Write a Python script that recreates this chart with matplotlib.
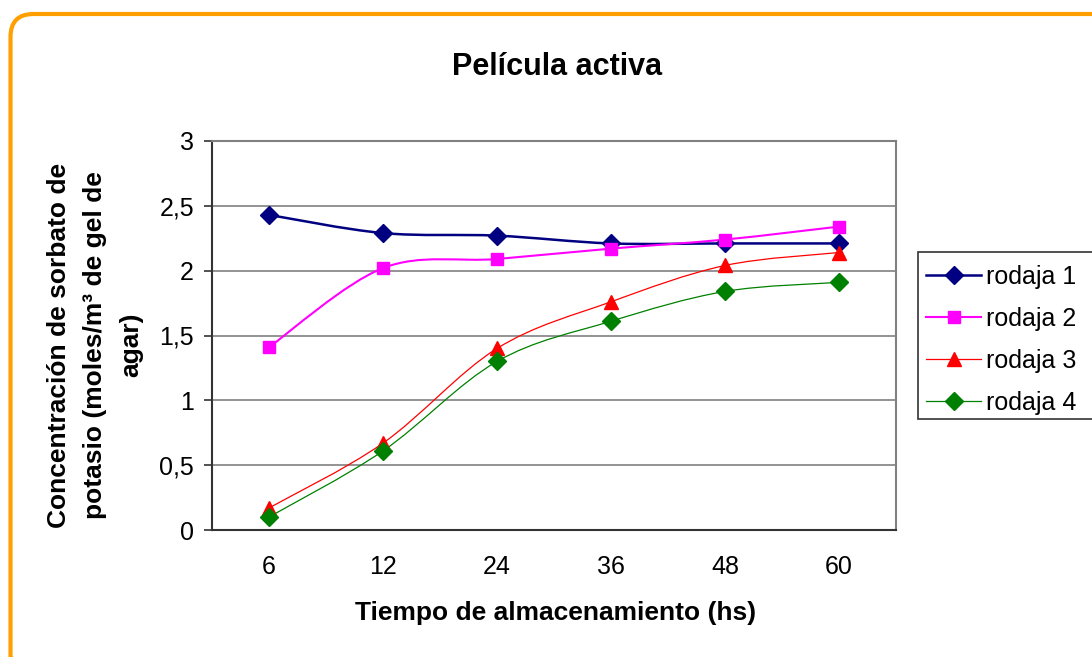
import matplotlib
matplotlib.use("Agg")
import matplotlib.pyplot as plt
from matplotlib.path import Path
from matplotlib.patches import PathPatch, FancyBboxPatch, Rectangle
from matplotlib.lines import Line2D
import numpy as np

plt.rcParams['font.family'] = ['Liberation Sans', 'DejaVu Sans']

# Data
categories = ['6', '12', '24', '36', '48', '60']
rodaja_1 = [2.43, 2.29, 2.27, 2.21, 2.21, 2.21]
rodaja_2 = [1.41, 2.02, 2.09, 2.17, 2.24, 2.34]
rodaja_3 = [0.17, 0.67, 1.40, 1.76, 2.04, 2.14]
rodaja_4 = [0.10, 0.61, 1.30, 1.61, 1.84, 1.91]
series_names = ['rodaja 1', 'rodaja 2', 'rodaja 3', 'rodaja 4']
y_ticks = [0, 0.5, 1, 1.5, 2, 2.5, 3]
y_tick_labels = ['0', '0,5', '1', '1,5', '2', '2,5', '3']

# Styles
styles = [
    dict(color='#000080', lw=1.8, marker='D', ms=9),
    dict(color='#FF00FF', lw=1.5, marker='s', ms=9),
    dict(color='#FF0000', lw=0.9, marker='^', ms=10),
    dict(color='#008000', lw=0.9, marker='D', ms=9),
]


def smooth_path(xs, ys):
    # Excel-like smoothed line: cubic Bezier segments (Catmull-Rom control points)
    pts = np.column_stack([xs, ys]).astype(float)
    n = len(pts)
    verts = [pts[0]]
    codes = [Path.MOVETO]
    for i in range(n - 1):
        p0 = pts[i - 1] if i > 0 else pts[i]
        p1 = pts[i]
        p2 = pts[i + 1]
        p3 = pts[i + 2] if i + 2 < n else pts[i + 1]
        c1 = p1 + (p2 - p0) / 6.0
        c2 = p2 - (p3 - p1) / 6.0
        verts += [c1, c2, p2]
        codes += [Path.CURVE4] * 3
    return Path(verts, codes)


W, H = 1092, 657
fig = plt.figure(figsize=(W / 100, H / 100), dpi=100)
fig.patch.set_facecolor('white')

# background axes in pixel units (top-left origin) for the frame and legend box
bg = fig.add_axes([0, 0, 1, 1], zorder=-1)
bg.set_xlim(0, W)
bg.set_ylim(H, 0)
bg.axis('off')
bg.add_patch(FancyBboxPatch((10.5, 14), 1120 - 10.5, 680 - 14,
                            boxstyle='round,pad=0,rounding_size=23',
                            facecolor='none', edgecolor='#FF9F00', lw=3))
bg.add_patch(Rectangle((918, 252), 200, 167, facecolor='white',
                       edgecolor='#333333', lw=1.2))

ax = fig.add_axes([212 / W, 1 - 530 / H, (896 - 212) / W, (530 - 141) / H])
x = np.arange(len(categories))
all_series = [rodaja_1, rodaja_2, rodaja_3, rodaja_4]

for vals, st in zip(all_series, styles):
    ax.add_patch(PathPatch(smooth_path(x, vals), facecolor='none',
                           edgecolor=st['color'], lw=st['lw'], zorder=3))
    ax.plot(x, vals, linestyle='none', marker=st['marker'], ms=st['ms'],
            color=st['color'], mec=st['color'], zorder=4, clip_on=False)

ax.set_xlim(-0.5, len(categories) - 0.5)
ax.set_ylim(0, 3)
ax.set_yticks(y_ticks)
ax.set_yticklabels(y_tick_labels, fontsize=18)
ax.set_xticks(x)
ax.set_xticklabels(categories, fontsize=18)
ax.tick_params(axis='x', length=0, pad=18)
ax.tick_params(axis='y', length=6, width=1.2, pad=7, direction='out', color='#333333')
ax.yaxis.grid(True, color='#808080', lw=1.2)
ax.set_axisbelow(True)
for side in ['top', 'right']:
    ax.spines[side].set_color('#808080')
    ax.spines[side].set_linewidth(1.5)
for side in ['left', 'bottom']:
    ax.spines[side].set_color('#333333')
    ax.spines[side].set_linewidth(1.5)

# Title and axis labels
fig.text(557 / W, 1 - 67 / H, 'Película activa', fontsize=22, fontweight='bold',
         ha='center', va='center')
fig.text(556 / W, 1 - 613 / H, 'Tiempo de almacenamiento (hs)', fontsize=19,
         fontweight='bold', ha='center', va='center')
fig.text(95 / W, 1 - 345 / H,
         'Concentración de sorbato de\npotasio (moles/m³ de gel de\nagar)',
         fontsize=19, fontweight='bold', rotation=90, ha='center', va='center',
         multialignment='center', linespacing=1.62)

# Legend
handles = [Line2D([0], [0], color=st['color'], lw=st['lw'], marker=st['marker'],
                  ms=st['ms'], mec=st['color']) for st in styles]
fig.legend(handles, series_names, loc='upper left',
           bbox_to_anchor=(926 / W, 1 - 265 / H), frameon=False, fontsize=18,
           handlelength=2.2, handletextpad=0.2, labelspacing=0.72,
           borderaxespad=0, borderpad=0)

fig.savefig('out.png', dpi=100, bbox_inches=None)
